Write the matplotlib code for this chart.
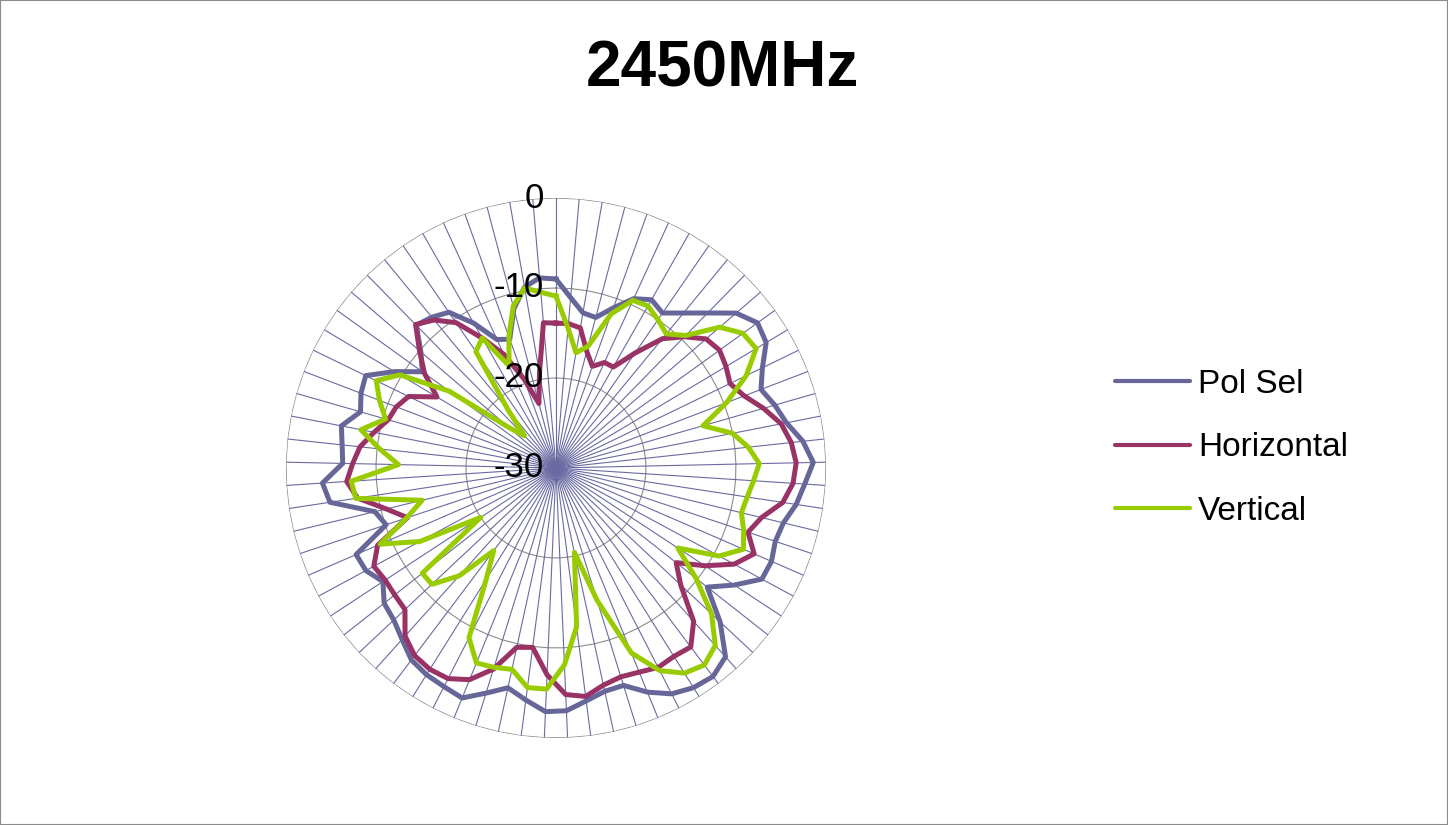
import numpy as np
import matplotlib.pyplot as plt
from matplotlib.patches import Rectangle

plt.rcParams['font.family'] = ['Liberation Sans', 'DejaVu Sans']

# measurement angles 0..360 step 5 (73 categories, 360 repeats 0)
angles_deg = list(range(0, 365, 5))

pol_sel = [-9.0, -11.0, -12.5, -12.7, -11.1, -9.3, -8.5, -9.1, -7.7, -5.9,
           -3.6, -2.4, -2.8, -4.5, -5.6, -4.7, -3.9, -2.4, -1.4, -2.3,
           -3.0, -4.0, -4.3, -3.9, -4.0, -6.3, -8.6, -5.0, -1.8, -1.0,
           -1.2, -1.8, -3.1, -4.7, -4.6, -3.9, -3.0, -2.9, -4.0, -5.0,
           -3.8, -2.4, -2.7, -2.9, -3.3, -4.4, -5.3, -5.7, -7.0, -6.0,
           -5.8, -10.1, -9.3, -4.6, -4.0, -6.3, -6.1, -5.7, -7.4, -6.8,
           -6.5, -9.1, -11.7, -10.2, -7.8, -8.3, -9.0, -11.5, -14.3, -14.8,
           -11.7, -9.6, -8.8]

horizontal = [-13.9, -13.9, -14.2, -16.6, -18.0, -17.1, -17.1, -14.5, -11.4, -9.6,
              -8.0, -7.6, -8.0, -8.5, -7.6, -6.0, -4.5, -3.7, -3.3, -3.6,
              -4.5, -6.5, -7.5, -6.0, -7.5, -10.2, -13.0, -11.0, -7.1, -5.1,
              -5.3, -5.1, -5.5, -5.7, -5.3, -4.4, -4.8, -7.0, -9.9, -9.6,
              -6.6, -4.6, -3.7, -3.6, -3.9, -4.9, -7.0, -7.2, -7.3, -7.0,
              -8.4, -12.6, -10.6, -7.7, -6.7, -7.4, -8.1, -9.4, -10.6, -11.0,
              -11.8, -14.6, -12.0, -10.0, -7.7, -8.7, -10.4, -13.4, -16.1, -19.5,
              -22.6, -19.3, -13.8]

vertical = [-10.9, -14.4, -17.0, -16.0, -11.8, -9.5, -9.3, -10.0, -10.7, -9.4,
            -6.0, -4.4, -4.1, -6.5, -9.7, -13.0, -10.0, -8.5, -7.4, -8.0,
            -8.5, -8.8, -8.0, -7.3, -9.4, -13.8, -10.2, -6.3, -3.5, -2.6,
            -3.1, -4.7, -7.8, -14.6, -20.4, -12.2, -8.1, -5.4, -5.4, -7.1,
            -6.8, -6.6, -8.8, -15.4, -18.5, -13.9, -11.1, -11.1, -20.0, -12.8,
            -8.7, -12.5, -14.7, -7.5, -7.2, -12.5, -10.3, -7.9, -10.3, -9.0,
            -7.8, -9.8, -15.4, -23.1, -25.0, -21.6, -14.3, -13.4, -17.5, -14.5,
            -11.4, -9.7, -10.4]

series_names = ['Pol Sel', 'Horizontal', 'Vertical']
series_colors = ['#666699', '#993366', '#99CC00']
r_ticks = [-30, -20, -10, 0]
r_labels = ['-30', '-20', '-10', '0']

n = len(angles_deg)
theta = np.arange(n) * 2 * np.pi / n
theta_closed = np.append(theta, theta[0])

fig = plt.figure(figsize=(14.48, 8.25), dpi=100)
fig.patches.append(Rectangle((0, 0), 1, 1, transform=fig.transFigure, fill=False,
                             edgecolor='#8a8a8a', lw=1.5))

ax = fig.add_axes([0.1975, 0.1055, 0.3729, 0.6545], projection='polar')
ax.set_theta_zero_location('N')
ax.set_theta_direction(-1)
ax.set_ylim(-30, 0)
ax.grid(False)
ax.set_xticks([])
ax.set_yticks([])
ax.spines['polar'].set_visible(False)

# polygon rings and spokes, like the spreadsheet radar grid
for rv in r_ticks[1:]:
    ax.plot(theta_closed, [rv] * (n + 1), color='#8c8c8c', lw=0.8, zorder=1)
for t in theta:
    ax.plot([t, t], [-30, 0], color='#6a6aa2', lw=0.8, zorder=1)

lines = []
for vals, name, col in zip([pol_sel, horizontal, vertical], series_names, series_colors):
    ln, = ax.plot(theta_closed, vals + [vals[0]], color=col, lw=3.6,
                  solid_joinstyle='round', label=name, zorder=3)
    lines.append(ln)

for v, lbl in zip(r_ticks, r_labels):
    ax.annotate(lbl, xy=(0, v), xytext=(-12, 0), textcoords='offset pixels',
                ha='right', va='center', fontsize=25, zorder=5,
                annotation_clip=False)

fig.text(0.499, 0.916, '2450MHz', ha='center', va='center', fontsize=46,
         fontweight='bold')

leg = fig.legend(handles=lines, loc='center left', bbox_to_anchor=(0.770, 0.457),
                 frameon=False, fontsize=24, handlelength=2.25, handletextpad=0.25,
                 labelspacing=0.97, borderpad=0, borderaxespad=0)
for hl in leg.get_lines():
    hl.set_linewidth(3.0)
    hl.set_solid_capstyle('round')

fig.savefig('out.png', dpi=100)
